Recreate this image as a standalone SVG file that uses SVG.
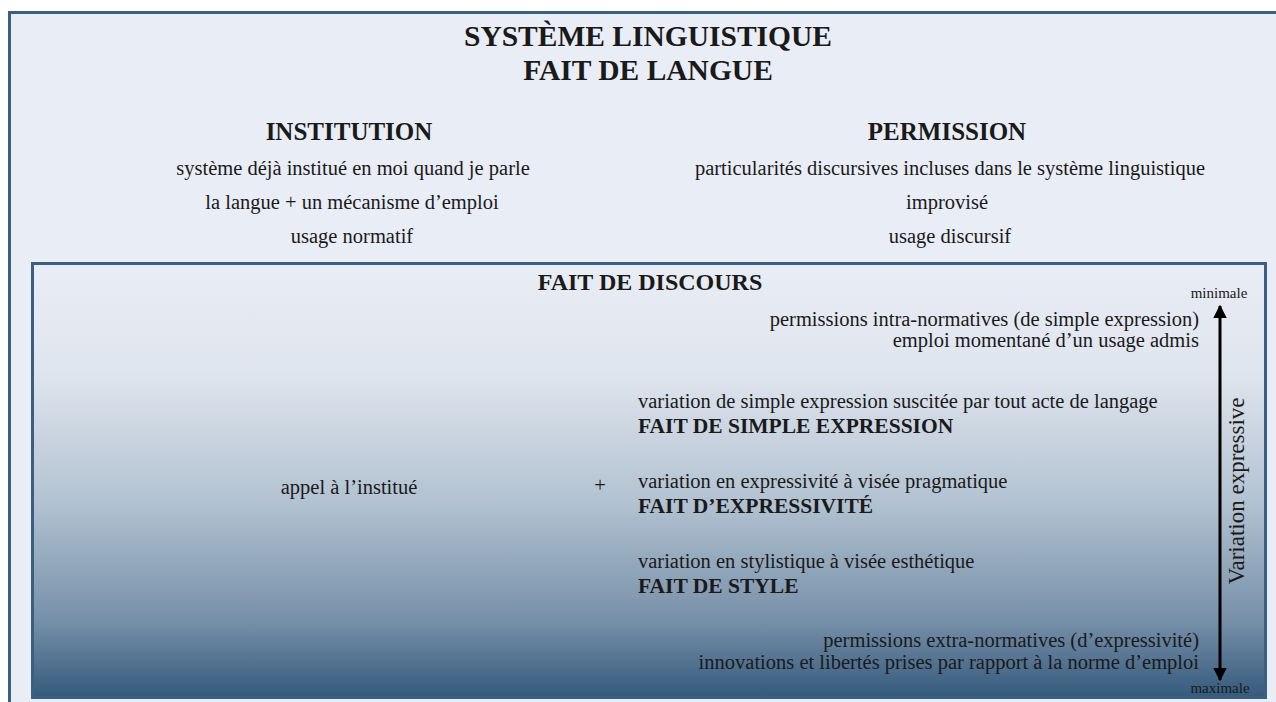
<svg xmlns="http://www.w3.org/2000/svg" width="1276" height="702" viewBox="0 0 1276 702">
<defs>
<linearGradient id="g" x1="0" y1="0" x2="0" y2="1">
<stop offset="0" stop-color="#e9edf5"/>
<stop offset="0.25" stop-color="#dfe5ee"/>
<stop offset="0.55" stop-color="#b2c2d1"/>
<stop offset="0.82" stop-color="#7790a9"/>
<stop offset="1" stop-color="#355a7c"/>
</linearGradient>
<marker id="ah" viewBox="0 0 10 10" refX="9" refY="5" markerWidth="4.5" markerHeight="4.5" orient="auto-start-reverse" markerUnits="strokeWidth">
<path d="M0,0 L10,5 L0,10 z" fill="#000"/>
</marker>
<style>
text{font-family:"Liberation Serif","Times New Roman",serif;fill:#1a1a1a}
.t{font-size:29.5px;font-weight:bold;text-anchor:middle}
.h{font-size:25px;font-weight:bold;text-anchor:middle}
.b{font-size:20.5px;text-anchor:middle}
.r{font-size:20.5px;text-anchor:end}
.l{font-size:20.5px}
.lb{font-size:21.5px;font-weight:bold}
.s{font-size:15px;text-anchor:middle}
.box{stroke:#3a5f80;stroke-width:3}
</style>
</defs>
<rect width="1276" height="702" fill="#ffffff"/>
<g id="langue">
<rect class="box" x="9.5" y="12.5" width="1290" height="710" fill="#e9edf5"/>
<text class="t" x="648" y="46">SYSTÈME LINGUISTIQUE</text>
<text class="t" x="648" y="80">FAIT DE LANGUE</text>
</g>
<g id="institution">
<text class="h" x="349" y="140">INSTITUTION</text>
<text class="b" x="353" y="175">système déjà institué en moi quand je parle</text>
<text class="b" x="352" y="209">la langue + un mécanisme d’emploi</text>
<text class="b" x="352" y="243">usage normatif</text>
</g>
<g id="permission">
<text class="h" x="947" y="140">PERMISSION</text>
<text class="b" x="950" y="175">particularités discursives incluses dans le système linguistique</text>
<text class="b" x="947" y="209">improvisé</text>
<text class="b" x="950" y="243">usage discursif</text>
</g>
<g id="discours">
<rect class="box" x="32.5" y="263.5" width="1233" height="434" fill="url(#g)"/>
<text class="h" x="650" y="290" style="font-size:24px">FAIT DE DISCOURS</text>
<text class="b" x="349" y="494">appel à l’institué</text>
<text class="b" x="600" y="492">+</text>
<text class="r" x="1199" y="326">permissions intra-normatives (de simple expression)</text>
<text class="r" x="1199" y="347">emploi momentané d’un usage admis</text>
<text class="l" x="638" y="408">variation de simple expression suscitée par tout acte de langage</text>
<text class="lb" x="638" y="433">FAIT DE SIMPLE EXPRESSION</text>
<text class="l" x="638" y="488">variation en expressivité à visée pragmatique</text>
<text class="lb" x="638" y="513">FAIT D’EXPRESSIVITÉ</text>
<text class="l" x="638" y="568">variation en stylistique à visée esthétique</text>
<text class="lb" x="638" y="593">FAIT DE STYLE</text>
<text class="r" x="1199" y="647">permissions extra-normatives (d’expressivité)</text>
<text class="r" x="1199" y="669">innovations et libertés prises par rapport à la norme d’emploi</text>
</g>
<g id="echelle">
<text class="s" x="1219" y="298">minimale</text>
<text class="s" x="1220" y="693">maximale</text>
<text class="b" transform="translate(1244,491) rotate(-90)" style="font-size:23px">Variation expressive</text>
</g>
<g id="connectors">
<line x1="1220" y1="306" x2="1220" y2="680" stroke="#000" stroke-width="3" marker-start="url(#ah)" marker-end="url(#ah)"/>
</g>
</svg>
